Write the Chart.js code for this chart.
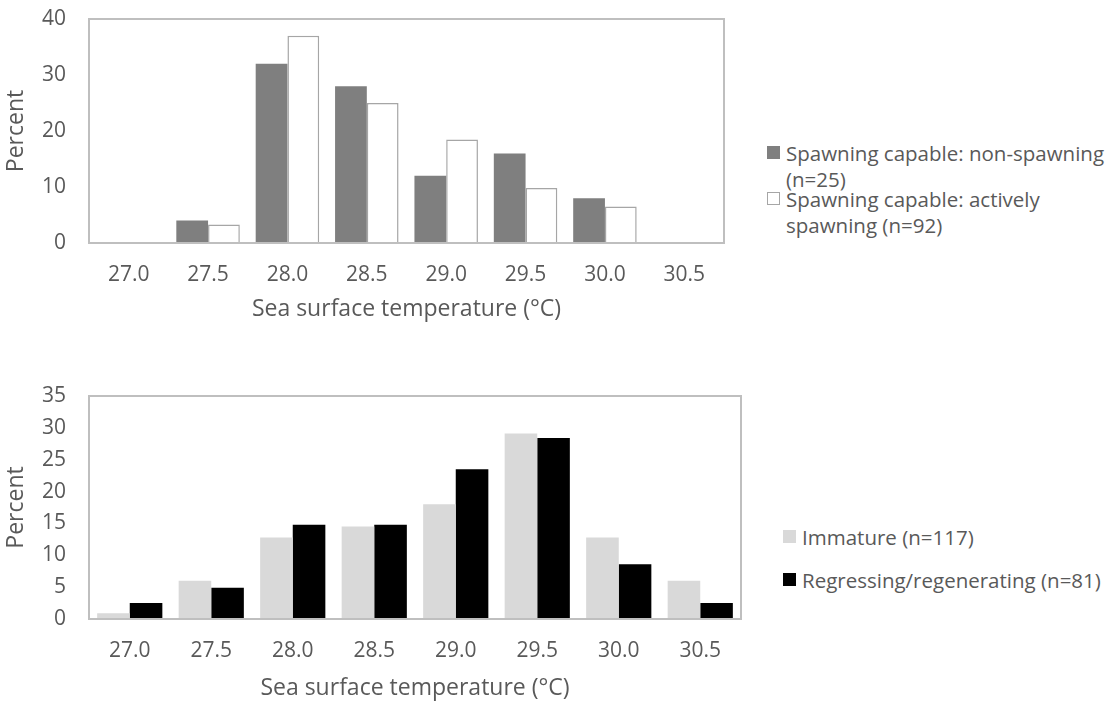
<!DOCTYPE html>
<html lang="en">
<head>
<meta charset="UTF-8">
<title>Sea surface temperature</title>
<script src="https://cdn.jsdelivr.net/npm/chart.js"></script>
<style>
  body { margin: 0; background: #fff; font-family: "Open Sans", sans-serif; color: #595959; }
  #page { position: relative; width: 1115px; height: 704px; overflow: hidden; }
  .box { position: absolute; left: 0; }
  .legend { position: absolute; font-size: 20.5px; line-height: 26px; white-space: nowrap; }
  .legend .item { position: absolute; left: 0; }
  .legend .sw { position: absolute; left: 0; top: 6px; width: 13px; height: 13px; box-sizing: border-box; }
  .legend .txt { position: absolute; left: 19px; top: 0; }
</style>
</head>
<body>
<div id="page">
  <div class="box" style="top:0"><canvas id="topChart" width="760" height="330"></canvas></div>
  <div class="box" style="top:330px"><canvas id="bottomChart" width="760" height="374"></canvas></div>
  <div class="legend" id="topLegend" style="left:767px; top:140px"></div>
  <div class="legend" id="bottomLegend" style="left:783px; top:524px"></div>
</div>

<script>
// temperature classes (°C)
const temps = ['27.0', '27.5', '28.0', '28.5', '29.0', '29.5', '30.0', '30.5'];

// top panel: spawning capable fish
const nonSpawning = [0, 4, 32, 28, 12, 16, 8, 0];
const activelySpawning = [0, 3.3, 37.0, 25.0, 18.5, 9.8, 6.5, 0];
const topLabels = [['Spawning capable: non-spawning', '(n=25)'], ['Spawning capable: actively', 'spawning (n=92)']];

// bottom panel
const immature = [0.9, 6.0, 12.8, 14.5, 18.0, 29.1, 12.8, 6.0];
const regressing = [2.5, 4.9, 14.8, 14.8, 23.5, 28.4, 8.6, 2.5];
const bottomLabels = [['Immature (n=117)'], ['Regressing/regenerating (n=81)']];

const textColor = '#595959';
const lineColor = '#bfbfbf';
const fontFamily = '"Open Sans", sans-serif';

// frame around the plot area
const frame = {
  id: 'frame',
  afterDatasetsDraw(chart) {
    const a = chart.chartArea, ctx = chart.ctx;
    ctx.save();
    ctx.strokeStyle = lineColor;
    ctx.lineWidth = 2;
    ctx.strokeRect(a.left, a.top, a.right - a.left, a.bottom - a.top);
    ctx.restore();
  }
};

function makeChart(id, datasets, yMax, yStep, pad, xHeight, titlePad) {
  return new Chart(document.getElementById(id), {
    type: 'bar',
    data: { labels: temps, datasets: datasets },
    options: {
      responsive: false,
      animation: false,
      layout: { padding: pad },
      plugins: { legend: { display: false }, tooltip: { enabled: false } },
      datasets: { bar: { categoryPercentage: 0.8, barPercentage: 1.0 } },
      scales: {
        x: {
          grid: { display: false },
          border: { display: false },
          ticks: { color: textColor, font: { family: fontFamily, size: 21 }, padding: 11, maxRotation: 0 },
          title: { display: true, text: 'Sea surface temperature (°C)', color: textColor,
                   font: { family: fontFamily, size: 23 }, padding: { top: 0, bottom: titlePad } },
          afterFit: s => { s.height = xHeight; s.paddingLeft = 0; s.paddingRight = 0; }
        },
        y: {
          min: 0, max: yMax,
          grid: { display: false, drawTicks: false },
          border: { display: false },
          ticks: { stepSize: yStep, color: textColor, font: { family: fontFamily, size: 21 }, padding: 23 },
          title: { display: true, text: 'Percent', color: textColor,
                   font: { family: fontFamily, size: 23 }, padding: { top: 3, bottom: 0 } },
          afterFit: s => { s.width = 89; s.paddingTop = 0; s.paddingBottom = 0; }
        }
      }
    },
    plugins: [frame]
  });
}

makeChart('topChart', [
  { label: topLabels[0].join(' '), data: nonSpawning, backgroundColor: '#7f7f7f', borderWidth: 0 },
  { label: topLabels[1].join(' '), data: activelySpawning, backgroundColor: '#ffffff', borderColor: '#a6a6a6', borderWidth: 1.5 }
], 40, 10, { top: 19, right: 36, left: 0, bottom: 0 }, 87, 7);

makeChart('bottomChart', [
  { label: bottomLabels[0][0], data: immature, backgroundColor: '#d9d9d9', borderWidth: 0 },
  { label: bottomLabels[1][0], data: regressing, backgroundColor: '#000000', borderWidth: 0 }
], 35, 5, { top: 66, right: 19, left: 0, bottom: 0 }, 85, 2);

// html legends
function legend(el, labels, swatches, gap) {
  labels.forEach((lines, i) => {
    const it = document.createElement('div');
    it.className = 'item';
    it.style.top = (i * gap) + 'px';
    const sw = document.createElement('span');
    sw.className = 'sw';
    sw.style.background = swatches[i].fill;
    if (swatches[i].border) sw.style.border = '1.5px solid ' + swatches[i].border;
    const t = document.createElement('span');
    t.className = 'txt';
    t.innerHTML = lines.join('<br>');
    it.appendChild(sw);
    it.appendChild(t);
    el.appendChild(it);
  });
}
legend(document.getElementById('topLegend'), topLabels,
  [{ fill: '#7f7f7f' }, { fill: '#ffffff', border: '#a6a6a6' }], 46);
legend(document.getElementById('bottomLegend'), bottomLabels,
  [{ fill: '#d9d9d9' }, { fill: '#000000' }], 43);
</script>
</body>
</html>
